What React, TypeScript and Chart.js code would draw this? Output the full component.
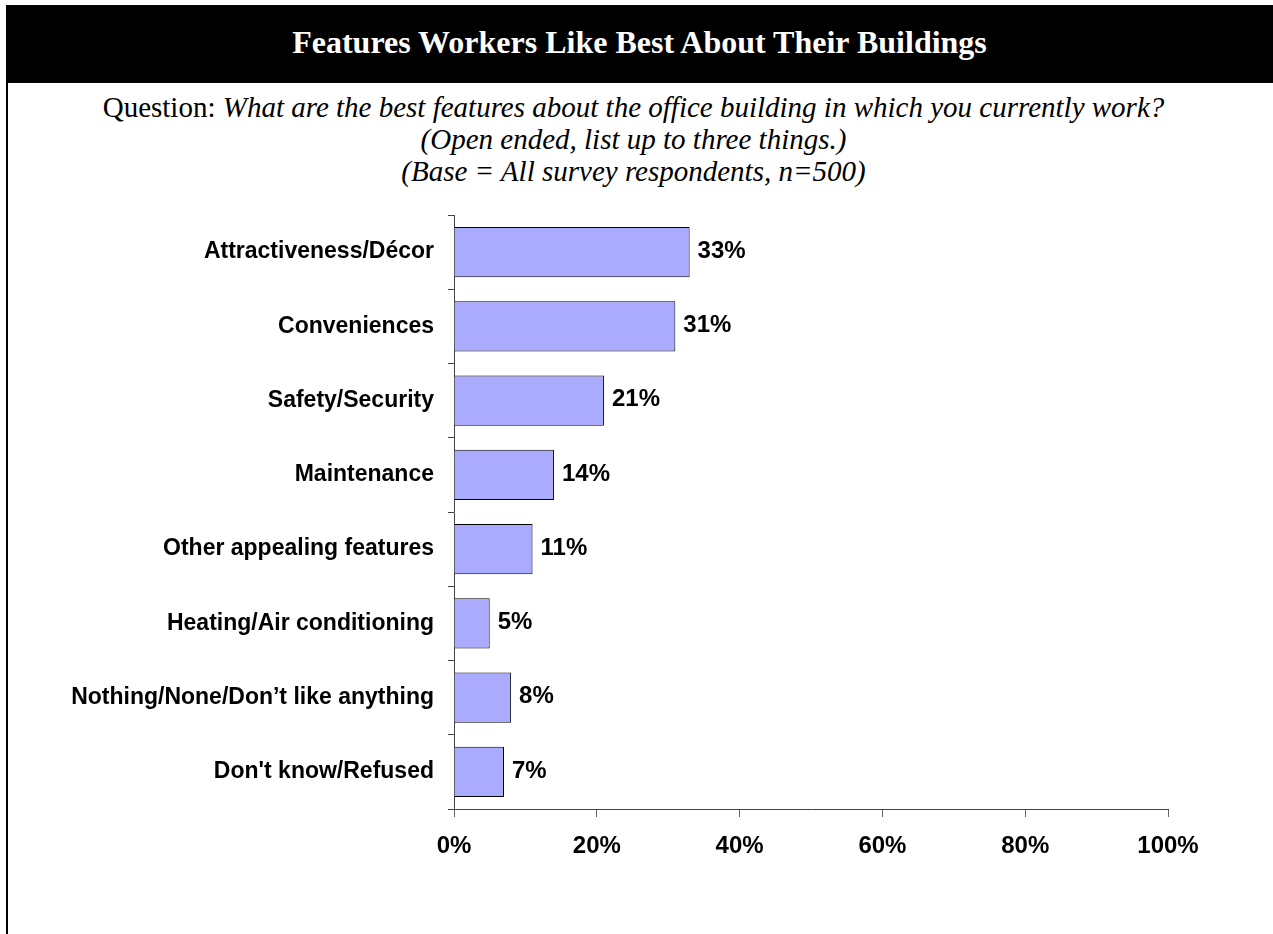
import React, { useEffect, useRef } from "react";
import { Chart, registerables } from "chart.js";

Chart.register(...registerables);

const categories = [
  "Attractiveness/Décor",
  "Conveniences",
  "Safety/Security",
  "Maintenance",
  "Other appealing features",
  "Heating/Air conditioning",
  "Nothing/None/Don\u2019t like anything",
  "Don't know/Refused",
];
const values = [33, 31, 21, 14, 11, 5, 8, 7];
const xTickValues = [0, 20, 40, 60, 80, 100];

const TITLE = "Features Workers Like Best About Their Buildings";
const SANS = "'Liberation Sans', Arial, sans-serif";
const SERIF = "'Liberation Serif', 'Times New Roman', serif";

const valueLabels = {
  id: "valueLabels",
  afterDatasetsDraw(chart: any) {
    const ctx = chart.ctx;
    const meta = chart.getDatasetMeta(0);
    ctx.save();
    ctx.font = `bold 24px ${SANS}`;
    ctx.fillStyle = "#000";
    ctx.textAlign = "left";
    ctx.textBaseline = "middle";
    meta.data.forEach((el: any, i: number) => {
      ctx.fillText(values[i] + "%", el.x + 8, el.y - 1);
    });
    ctx.restore();
  },
};

export default function App() {
  const ref = useRef<HTMLCanvasElement>(null);
  useEffect(() => {
    document.body.style.margin = "0";
    const chart = new Chart(ref.current!, {
      type: "bar",
      data: {
        labels: categories,
        datasets: [
          {
            data: values,
            backgroundColor: "#AAAAFF",
            borderColor: "#000",
            borderWidth: 1,
            categoryPercentage: 1,
            barPercentage: 0.68,
          },
        ],
      },
      options: {
        indexAxis: "y",
        animation: false,
        responsive: false,
        layout: { padding: { top: 215, right: 105, left: 0, bottom: 0 } },
        plugins: { legend: { display: false }, tooltip: { enabled: false } },
        scales: {
          x: {
            min: 0,
            max: 100,
            afterBuildTicks: (s: any) => {
              s.ticks = xTickValues.map((v) => ({ value: v }));
            },
            afterFit: (s: any) => {
              s.height = 125;
            },
            grid: {
              drawOnChartArea: false,
              tickLength: 8,
              color: "#666",
            },
            border: { display: true, color: "#444", width: 1 },
            ticks: {
              padding: 15,
              color: "#000",
              font: { family: SANS, size: 24, weight: "bold" },
              callback: (v: any) => v + "%",
              maxRotation: 0,
            },
          },
          y: {
            afterFit: (s: any) => {
              s.width = 454;
            },
            grid: {
              drawOnChartArea: false,
              tickLength: 6,
              offset: true,
              color: "#444",
            },
            border: { display: true, color: "#444", width: 1 },
            ticks: {
              padding: 14,
              color: "#000",
              font: { family: SANS, size: 23, weight: "bold" },
            },
          },
        },
      },
      plugins: [valueLabels],
    } as any);
    return () => chart.destroy();
  }, []);

  return (
    <div style={{ position: "relative", width: 1273, height: 934, overflow: "hidden", background: "#fff" }}>
      <div
        style={{
          position: "absolute",
          left: 6,
          top: 5,
          width: 1267,
          height: 929,
          borderLeft: "2px solid #000",
          boxSizing: "border-box",
        }}
      />
      <div
        style={{
          position: "absolute",
          left: 6,
          top: 5,
          width: 1267,
          height: 78,
          background: "#000",
          color: "#fff",
          fontFamily: SERIF,
          fontWeight: "bold",
          fontSize: 32,
          display: "flex",
          alignItems: "center",
          justifyContent: "center",
          boxSizing: "border-box",
          paddingBottom: 4,
        }}
      >
        {TITLE}
      </div>
      <div
        style={{
          position: "absolute",
          left: 0,
          top: 91,
          width: 1267,
          textAlign: "center",
          fontFamily: SERIF,
          fontSize: 29,
          lineHeight: "32px",
          color: "#000",
        }}
      >
        <div>
          Question: <i>What are the best features about the office building in which you currently work?</i>
        </div>
        <div>
          <i>(Open ended, list up to three things.)</i>
        </div>
        <div>
          <i>(Base = All survey respondents, n=500)</i>
        </div>
      </div>
      <canvas
        ref={ref}
        width={1273}
        height={934}
        style={{ position: "absolute", left: 0, top: 0 }}
      />
    </div>
  );
}
